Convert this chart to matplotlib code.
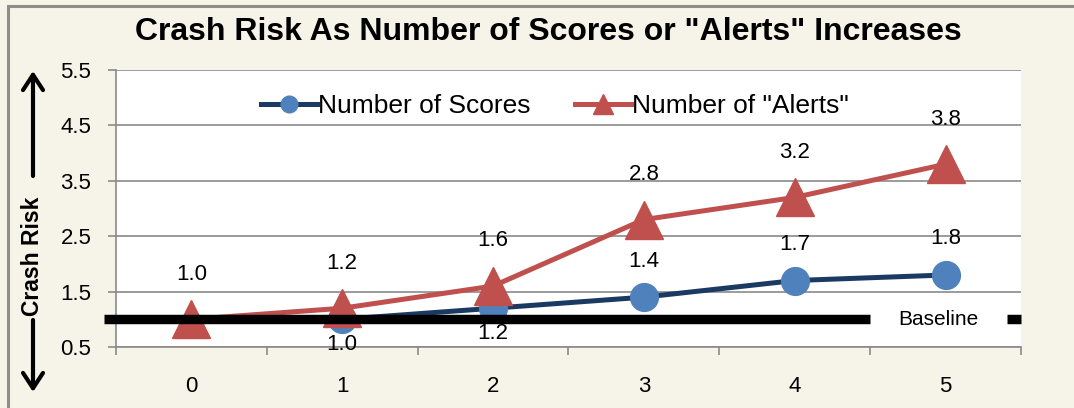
import numpy as np
import matplotlib
matplotlib.use("Agg")
import matplotlib.pyplot as plt
from matplotlib.lines import Line2D
from matplotlib.patches import Rectangle

plt.rcParams['font.family'] = ['Liberation Sans', 'DejaVu Sans']

categories = [0, 1, 2, 3, 4, 5]
scores = [np.nan, 1.0, 1.2, 1.4, 1.7, 1.8]
alerts = [1.0, 1.2, 1.6, 2.8, 3.2, 3.8]
score_label_side = [None, 'below', 'below', 'above', 'above', 'above']
baseline = 1.0
y_ticks = [0.5, 1.5, 2.5, 3.5, 4.5, 5.5]

BG = '#F6F4E9'
GRID = '#8A8A8A'
RED = '#C0504D'
NAVY = '#1B3A63'
BLUE = '#4F81BD'


def main():
    fig = plt.figure(figsize=(10.74, 4.08), dpi=100, facecolor=BG)
    ax = fig.add_axes([0.108, 0.1495, 0.8426, 0.6789])
    ax.set_facecolor('white')

    # outer chart frame (only top/left edges fall inside the image)
    fig.patches.append(Rectangle((8 / 1074, -0.1), 1.2, 1.1 - 6 / 408,
                                 transform=fig.transFigure, fill=False,
                                 edgecolor='#8D8D8D', lw=2.2, clip_on=False))

    x = np.array(categories)
    ax.plot(x, scores, color=NAVY, lw=3.6, marker='o', markersize=20,
            markerfacecolor=BLUE, markeredgecolor=BLUE, zorder=3,
            clip_on=False)
    ax.plot(x, alerts, color=RED, lw=3.6, marker='^', markersize=28,
            markerfacecolor=RED, markeredgecolor=RED, zorder=4,
            clip_on=False)

    # baseline with a gap for its label
    ax.plot([-0.58, 4.5], [baseline, baseline], color='black', lw=6.8,
            solid_capstyle='butt', zorder=5, clip_on=False)
    ax.plot([5.41, 5.5], [baseline, baseline], color='black', lw=6.8,
            solid_capstyle='butt', zorder=5, clip_on=False)
    ax.text(4.95, baseline, 'Baseline', fontsize=15, ha='center',
            va='center', zorder=6)

    for xi, v in zip(x, alerts):
        ax.annotate(f'{v:.1f}', (xi, v), xytext=(0, 32.5),
                    textcoords='offset points', ha='center', va='center',
                    fontsize=16, zorder=7)
    for xi, v, side in zip(x, scores, score_label_side):
        if side is None:
            continue
        dy = 26 if side == 'above' else -18
        ax.annotate(f'{v:.1f}', (xi, v), xytext=(0, dy),
                    textcoords='offset points', ha='center', va='center',
                    fontsize=16, zorder=7)

    ax.set_xlim(-0.5, 5.5)
    ax.set_ylim(0.5, 5.5)
    ax.set_yticks(y_ticks)
    ax.set_yticklabels([f'{t:.1f}' for t in y_ticks])
    ax.set_xticks(x)
    ax.set_xticklabels([str(c) for c in categories])
    ax.set_xticks(np.arange(-0.5, 6.0, 1.0), minor=True)
    ax.tick_params(axis='x', which='major', length=0, pad=21, labelsize=16)
    ax.tick_params(axis='x', which='minor', length=5.5, width=1.2,
                   color=GRID, direction='out')
    ax.tick_params(axis='y', length=5.8, width=1.2, color=GRID, pad=12,
                   labelsize=16)
    ax.yaxis.grid(True, color=GRID, lw=1.2)
    ax.set_axisbelow(True)
    for side in ('top', 'right'):
        ax.spines[side].set_visible(False)
    for side in ('left', 'bottom'):
        ax.spines[side].set_color(GRID)
        ax.spines[side].set_linewidth(1.2)

    handles = [
        Line2D([], [], color=NAVY, lw=3.6, marker='o', markersize=12,
               markerfacecolor=BLUE, markeredgecolor=BLUE),
        Line2D([], [], color=RED, lw=3.6, marker='^', markersize=14,
               markerfacecolor=RED, markeredgecolor=RED),
    ]
    ax.legend(handles, ['Number of Scores', 'Number of "Alerts"'],
              loc='center', bbox_to_anchor=(0.485, 0.87), ncol=2,
              frameon=False, fontsize=19, handlelength=2.1,
              handletextpad=0.05, columnspacing=1.7)

    fig.text(0.5107, 0.922, 'Crash Risk As Number of Scores or "Alerts" Increases',
             fontsize=23, fontweight='bold', ha='center', va='center')

    # y-axis caption with up/down arrows
    fig.text(0.0307, 0.3725, 'Crash Risk', fontsize=16.5, fontweight='bold',
             rotation=90, ha='center', va='center')
    arrow = dict(arrowstyle='->, head_length=0.55, head_width=0.36',
                 lw=3, color='black', mutation_scale=20, shrinkA=0, shrinkB=0)
    ax.annotate('', xy=(33, 337), xytext=(33, 232), xycoords='figure pixels',
                textcoords='figure pixels', arrowprops=arrow)
    ax.annotate('', xy=(33, 16), xytext=(33, 88), xycoords='figure pixels',
                textcoords='figure pixels', arrowprops=arrow)

    fig.savefig('out.png', dpi=100, facecolor=BG)


if __name__ == "__main__":
    main()
